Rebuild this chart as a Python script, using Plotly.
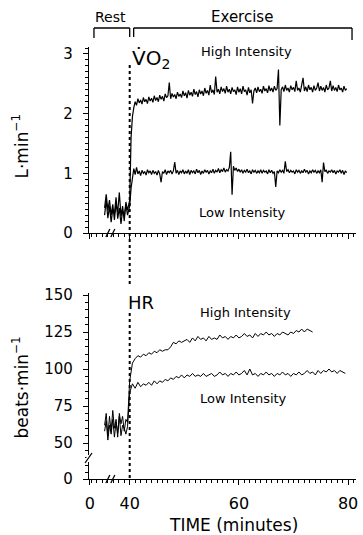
import plotly.graph_objects as go

# ---------------- data ----------------
EX_START = 40.0          # exercise start (minutes)
VO2_STEP = 0.25          # VO2 sampling interval (minutes)
HR_STEP = 0.5            # HR sampling interval (minutes)

vo2_high = [0.55, 1.60, 1.95, 2.10,
            2.20, 2.14, 2.25, 2.18, 2.23, 2.16, 2.27, 2.20, 2.24, 2.17, 2.28, 2.21, 2.26, 2.19, 2.30, 2.22,
            2.27, 2.20, 2.31, 2.24, 2.29, 2.21, 2.33, 2.27, 2.30, 2.52, 2.25, 2.34, 2.28, 2.32, 2.25, 2.36, 2.29, 2.33, 2.27, 2.38,
            2.30, 2.35, 2.26, 2.39, 2.31, 2.36, 2.29, 2.41, 2.32, 2.37, 2.28, 2.40, 2.33, 2.38, 2.30, 2.43, 2.34, 2.39, 2.31, 2.48,
            2.35, 2.40, 2.32, 2.62, 2.36, 2.41, 2.33, 2.45, 2.37, 2.42, 2.34, 2.46, 2.36, 2.41, 2.33, 2.44, 2.37, 2.40, 2.32, 2.45,
            2.36, 2.42, 2.33, 2.46, 2.37, 2.40, 2.31, 2.44, 2.35, 2.40, 2.17, 2.38, 2.43, 2.35, 2.45, 2.37, 2.41, 2.34, 2.46, 2.38,
            2.42, 2.35, 2.47, 2.38, 2.43, 2.36, 2.46, 2.39, 2.42, 2.74, 1.80, 2.40, 2.45, 2.37, 2.48, 2.39, 2.43, 2.36, 2.47, 2.40,
            2.44, 2.37, 2.55, 2.39, 2.43, 2.36, 2.47, 2.60, 2.38, 2.45, 2.37, 2.48, 2.40, 2.44, 2.36, 2.47, 2.39, 2.43, 2.52, 2.38,
            2.46, 2.39, 2.44, 2.36, 2.48, 2.40, 2.43, 2.55, 2.38, 2.47, 2.39, 2.44, 2.37, 2.48, 2.40, 2.43, 2.36, 2.46, 2.39, 2.42]

vo2_low = [0.45, 0.75, 0.92, 1.08,
           0.98, 1.10, 0.99, 1.04, 0.96, 1.05, 1.00, 1.03, 0.97, 1.06, 1.01, 1.04, 0.98, 1.05, 1.00, 1.03,
           0.97, 1.05, 0.99, 0.85, 1.03, 1.00, 1.06, 0.98, 1.04, 1.01, 1.05, 0.99, 1.04, 1.19, 1.00, 1.05, 0.98, 1.04, 1.01, 1.06,
           0.99, 1.04, 1.00, 1.06, 0.98, 1.05, 1.01, 1.04, 0.99, 1.07, 1.01, 1.05, 0.98, 1.04, 1.00, 1.06, 1.02, 1.05, 0.99, 1.04,
           1.01, 1.07, 1.00, 1.05, 1.02, 1.08, 1.01, 1.06, 1.03, 1.09, 1.02, 1.06, 1.04, 1.10, 1.36, 0.64, 1.12, 1.05, 1.09, 1.03,
           1.07, 1.02, 1.06, 1.00, 1.05, 1.02, 1.07, 1.01, 1.04, 0.99, 1.06, 1.02, 1.05, 1.00, 1.04, 1.01, 1.06, 1.00, 1.05, 1.02,
           1.04, 0.99, 1.06, 1.01, 1.05, 1.00, 1.03, 0.77, 1.04, 1.01, 1.06, 1.02, 1.05, 1.00, 1.20, 1.03, 1.06, 1.01, 1.05, 1.02,
           1.04, 0.99, 1.06, 1.02, 1.05, 1.00, 1.04, 1.01, 1.07, 1.02, 1.05, 0.99, 1.04, 1.01, 1.06, 1.02, 1.05, 1.00, 1.04, 1.01,
           1.06, 0.85, 1.18, 1.03, 1.05, 1.00, 1.04, 1.02, 1.06, 1.01, 1.05, 0.99, 1.04, 1.02, 1.06, 1.00, 1.05, 0.98, 1.04, 1.01]

hr_high = [92, 104, 107, 109, 108, 110, 109, 111, 110, 112,
           111, 113, 112, 113, 113, 115, 118, 117, 119, 118,
           119, 120, 118, 121, 119, 122, 120, 121, 119, 122,
           120, 121, 120, 123, 121, 122, 120, 122, 121, 123,
           121, 122, 124, 122, 123, 121, 124, 122, 124, 123,
           125, 123, 124, 122, 124, 123, 125, 124, 123, 125,
           124, 126, 125, 127, 125, 127, 126, 125]

hr_low = [84, 90, 87, 91, 88, 90, 89, 91, 89, 92,
          90, 92, 91, 93, 92, 94, 93, 95, 94, 96,
          94, 96, 95, 97, 95, 96, 95, 97, 95, 96,
          97, 95, 96, 98, 96, 97, 95, 97, 96, 98,
          96, 97, 99, 96, 100, 96, 97, 95, 97, 96,
          98, 96, 97, 95, 97, 96, 98, 96, 97, 95,
          97, 96, 98, 96, 97, 99, 97, 98, 96, 99,
          97, 99, 98, 100, 98, 99, 97, 99, 98, 97]

# rest phase (compressed, broken time axis): display positions
rest_t = [35.4, 35.7, 36.0, 36.3, 36.6, 36.9, 37.2, 37.5,
          37.8, 38.1, 38.4, 38.7, 39.0, 39.3, 39.6]
rest_vo2_a = [0.42, 0.65, 0.38, 0.55, 0.30, 0.48, 0.22, 0.50,
              0.35, 0.68, 0.28, 0.45, 0.20, 0.52, 0.38]
rest_vo2_b = [0.30, 0.55, 0.25, 0.45, 0.18, 0.40, 0.32, 0.60,
              0.24, 0.42, 0.15, 0.38, 0.28, 0.48, 0.30]
rest_hr_a = [62, 70, 55, 68, 58, 72, 60, 66, 54, 70, 63, 68, 58, 66, 64]
rest_hr_b = [58, 65, 52, 62, 56, 66, 54, 64, 57, 68, 55, 62, 60, 56, 61]

# axis ticks
x_zero_pos = 32.7          # where the "0" of the broken time axis sits
x_tickvals = [x_zero_pos, 40, 60, 80]
x_ticktext = ["0", "40", "60", "80"]
hr_zero_pos = 25.7         # where the "0" of the broken HR axis sits
hr_tickvals = [hr_zero_pos, 50, 75, 100, 125, 150]
hr_ticktext = ["0", "50", "75", "100", "125", "150"]
vo2_tickvals = [0, 1, 2, 3]


def ex_times(n, step):
    return [EX_START + step * i for i in range(n)]


# ---------------- geometry helpers ----------------
W, H = 363, 535
ML, MR, MT, MB = 89, 5, 47, 56
PW = W - ML - MR
PH = H - MT - MB


def px(x):
    return (x - ML) / PW


def py(y):
    return (H - MB - y) / PH


XR = [32.545, 81.45]
top_dom = [py(233), 1.0]
bot_dom = [0.0, py(293)]

fig = go.Figure()

# top panel (VO2) on x2/y2
for xs, ys in [(rest_t + ex_times(len(vo2_high), VO2_STEP), rest_vo2_a + vo2_high),
               (rest_t + ex_times(len(vo2_low), VO2_STEP), rest_vo2_b + vo2_low)]:
    fig.add_trace(go.Scatter(x=xs, y=ys, mode="lines",
                             line=dict(color="black", width=1.2),
                             xaxis="x2", yaxis="y2", hoverinfo="skip"))
# bottom panel (HR) on x/y
for xs, ys in [(rest_t + ex_times(len(hr_high), HR_STEP), rest_hr_a + hr_high),
               (rest_t + ex_times(len(hr_low), HR_STEP), rest_hr_b + hr_low)]:
    fig.add_trace(go.Scatter(x=xs, y=ys, mode="lines",
                             line=dict(color="black", width=1),
                             xaxis="x", yaxis="y", hoverinfo="skip"))

tickfont = dict(family="DejaVu Sans", size=15, color="black")
common_x = dict(range=XR, domain=[0, 1], showline=True, linecolor="black",
                linewidth=1.2, showgrid=False, zeroline=False,
                ticks="outside", ticklen=5, tickwidth=1, tickcolor="black",
                tickvals=x_tickvals, ticktext=x_ticktext,
                minor=dict(ticks="outside", ticklen=3, dtick=1, tick0=40,
                           tickcolor="black", tickwidth=1, showgrid=False))
common_y = dict(showline=True, linecolor="black", linewidth=1.2,
                showgrid=False, zeroline=False, ticks="outside", ticklen=5,
                tickwidth=1, tickcolor="black", tickfont=tickfont,
                ticklabelstandoff=7)

fig.update_layout(
    width=W, height=H,
    margin=dict(l=ML, r=MR, t=MT, b=MB),
    paper_bgcolor="white", plot_bgcolor="white",
    showlegend=False,
    font=dict(family="DejaVu Sans", color="black"),
    xaxis=dict(**common_x, anchor="y", showticklabels=True,
               tickfont=dict(family="DejaVu Sans", size=16, color="black"),
               ticklabelstandoff=5),
    xaxis2=dict(**common_x, anchor="y2", showticklabels=False),
    yaxis=dict(**common_y, domain=bot_dom, anchor="x",
               range=[hr_zero_pos, 151.35],
               tickvals=hr_tickvals, ticktext=hr_ticktext,
               minor=dict(ticks="outside", ticklen=3, dtick=5, tick0=0,
                          tickcolor="black", tickwidth=1, showgrid=False)),
    yaxis2=dict(**common_y, domain=top_dom, anchor="x2",
                range=[0, 3.117], tickvals=vo2_tickvals,
                minor=dict(ticks="outside", ticklen=3, dtick=0.1, tick0=0,
                           tickcolor="black", tickwidth=1, showgrid=False)),
)

shapes = []
blk = dict(color="black", width=1.3)
# dotted line marking start of exercise
dot = dict(color="black", width=2, dash="dot")
shapes.append(dict(type="line", xref="x", yref="paper", x0=40, x1=40,
                   y0=py(65), y1=py(284), line=dot))
shapes.append(dict(type="line", xref="x", yref="paper", x0=40, x1=40,
                   y0=py(313), y1=py(479), line=dot))


def seg(x0, y0, x1, y1, ln=blk):
    shapes.append(dict(type="line", xref="paper", yref="paper",
                       x0=px(x0), y0=py(y0), x1=px(x1), y1=py(y1), line=ln))


# brackets
seg(94, 28, 130, 28); seg(94, 28, 94, 38); seg(130, 28, 130, 37)
seg(134, 28, 354, 28); seg(134, 28, 134, 37); seg(354, 28, 354, 40)
# x-axis breaks
for yb in (233, 479):
    seg(106, yb + 4, 110, yb - 4)
    seg(111, yb + 4, 115, yb - 4)
# y-axis break (HR)
shapes.append(dict(type="rect", xref="paper", yref="paper",
                   x0=px(86.5), x1=px(91.5), y0=py(462), y1=py(455),
                   fillcolor="white", line=dict(width=0)))
seg(85, 463, 92, 453)
fig.update_layout(shapes=shapes)


def ann(text, x, y, size, angle=0):
    fig.add_annotation(text=text, xref="paper", yref="paper", x=px(x),
                       y=py(y), showarrow=False, xanchor="center",
                       yanchor="middle", textangle=angle,
                       font=dict(family="DejaVu Sans", size=size,
                                 color="black"))


ann("Rest", 111, 17, 14)
ann("Exercise", 243, 17, 15)
ann("V̇O<sub>2</sub>", 151, 59, 20)
ann("HR", 141, 302, 18)
ann("High Intensity", 248, 51, 13)
ann("Low Intensity", 244, 212, 13)
ann("High Intensity", 247, 312, 13)
ann("Low Intensity", 245, 398, 13)
ann("L·min<sup>−1</sup>", 20, 147, 17, -90)
ann("beats·min<sup>−1</sup>", 20, 388, 17, -90)
ann("TIME (minutes)", 235, 525, 17)

fig.write_html("out.html")
